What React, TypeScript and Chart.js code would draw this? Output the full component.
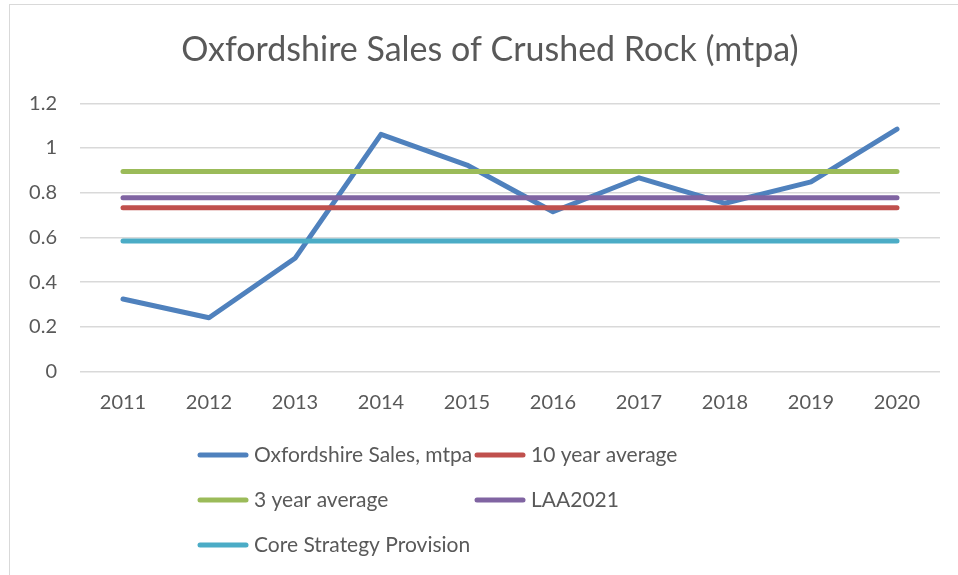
import React, { useEffect, useRef } from 'react';
import { Chart, registerables } from 'chart.js';

Chart.register(...registerables);

const years = ['2011', '2012', '2013', '2014', '2015', '2016', '2017', '2018', '2019', '2020'];
const salesMtpa = [0.325, 0.241, 0.507, 1.061, 0.924, 0.715, 0.867, 0.753, 0.849, 1.085];
const tenYearAverage = [0.733, 0.733, 0.733, 0.733, 0.733, 0.733, 0.733, 0.733, 0.733, 0.733];
const threeYearAverage = [0.895, 0.895, 0.895, 0.895, 0.895, 0.895, 0.895, 0.895, 0.895, 0.895];
const laa2021 = [0.778, 0.778, 0.778, 0.778, 0.778, 0.778, 0.778, 0.778, 0.778, 0.778];
const coreStrategyProvision = [0.584, 0.584, 0.584, 0.584, 0.584, 0.584, 0.584, 0.584, 0.584, 0.584];
const seriesNames = ['Oxfordshire Sales, mtpa', '10 year average', '3 year average', 'LAA2021', 'Core Strategy Provision'];
const seriesColors = ['#4F81BD', '#C0504D', '#9BBB59', '#8064A2', '#4BACC6'];
const titleText = 'Oxfordshire Sales of Crushed Rock (mtpa)';

const FONT = 'Lato, "Open Sans", sans-serif';
const TEXT = '#595959';
const GRID = '#D9D9D9';

const legendGrid = {
  id: 'legendGrid',
  afterDraw(chart: any, _args: any, opts: any) {
    const ctx = chart.ctx;
    const ds = chart.data.datasets;
    ctx.save();
    ctx.font = `${opts.fontSize}px ${FONT}`;
    ctx.textBaseline = 'middle';
    ctx.textAlign = 'left';
    ds.forEach((d: any, i: number) => {
      const col = i % 2;
      const row = Math.floor(i / 2);
      const x = opts.cols[col];
      const y = opts.y0 + row * opts.rowGap;
      ctx.strokeStyle = d.borderColor;
      ctx.lineWidth = 5;
      ctx.lineCap = 'round';
      ctx.beginPath();
      ctx.moveTo(x + 2, y);
      ctx.lineTo(x + opts.lineLen - 2, y);
      ctx.stroke();
      ctx.fillStyle = TEXT;
      ctx.fillText(d.label, x + opts.lineLen + 6, y);
    });
    ctx.restore();
  },
};

export default function App() {
  const ref = useRef<HTMLCanvasElement | null>(null);

  useEffect(() => {
    if (!ref.current) return;
    const values = [salesMtpa, tenYearAverage, threeYearAverage, laa2021, coreStrategyProvision];
    const chart = new Chart(ref.current, {
      type: 'line',
      data: {
        labels: years,
        datasets: values.map((v, i) => ({
          label: seriesNames[i],
          data: v,
          borderColor: seriesColors[i],
          backgroundColor: seriesColors[i],
          borderWidth: 5,
          pointRadius: 0,
          borderCapStyle: 'round' as const,
          borderJoinStyle: 'round' as const,
          tension: 0,
          order: i === 0 ? 1 : 0,
        })),
      },
      options: {
        animation: false,
        responsive: true,
        maintainAspectRatio: false,
        layout: { padding: { left: 0, right: 0, top: 0, bottom: 153.3 } },
        plugins: {
          legend: { display: false },
          tooltip: { enabled: false },
          title: {
            display: true,
            text: titleText,
            color: TEXT,
            font: { family: FONT, size: 34, weight: 'normal' },
            padding: { top: 24.6, bottom: 32.9 },
          },
          legendGrid: { fontSize: 21, cols: [188, 465], y0: 450, rowGap: 45, lineLen: 50 },
        } as any,
        scales: {
          x: {
            offset: true,
            grid: { display: false, drawTicks: false },
            border: { display: false },
            ticks: { color: TEXT, font: { family: FONT, size: 20 }, padding: 19, maxRotation: 0 },
            afterFit: (s: any) => { s.height = 50; },
          },
          y: {
            min: 0,
            max: 1.2,
            grid: { color: GRID, lineWidth: 1.5, drawTicks: false },
            border: { display: false },
            ticks: {
              stepSize: 0.2,
              color: TEXT,
              padding: 23,
              font: { family: FONT, size: 20 },
              callback: (v: any) => String(Number(Number(v).toFixed(1))),
            },
            afterFit: (s: any) => { s.width = 70; },
          },
          rightSpacer: {
            type: 'linear',
            position: 'right',
            display: true,
            grid: { display: false, drawTicks: false },
            border: { display: false },
            ticks: { display: false },
            afterFit: (s: any) => { s.width = 30; },
          },
        } as any,
      },
      plugins: [legendGrid],
    });
    return () => chart.destroy();
  }, []);

  return (
    <div style={{ position: 'fixed', left: 0, top: 0, width: 958, height: 575, overflow: 'hidden', background: '#fff' }}>
      <div style={{ position: 'absolute', left: 9, top: 4, width: 960, height: 580, border: '1px solid #D9D9D9', background: '#fff' }}>
        <div style={{ position: 'relative', width: 960, height: 570 }}>
          <canvas ref={ref} />
        </div>
      </div>
    </div>
  );
}
